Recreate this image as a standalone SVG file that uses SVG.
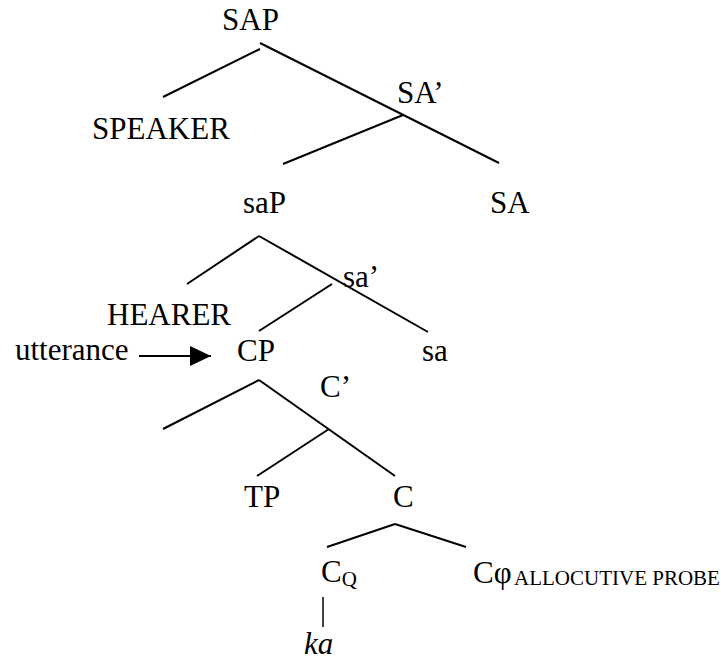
<svg xmlns="http://www.w3.org/2000/svg" width="721" height="661" viewBox="0 0 721 661" font-family="'Liberation Serif', 'Times New Roman', serif">
<style>
text{font-family:"Liberation Serif","Times New Roman",serif;font-size:31px;fill:#000}
.sub{font-size:21px}
.edge{stroke:#000;stroke-width:2;fill:none;stroke-linecap:butt}
</style>
<defs>
<marker id="ah" markerWidth="21" markerHeight="20" refX="21" refY="10" orient="auto" markerUnits="userSpaceOnUse">
<polygon points="0,0 21,10 0,20" fill="#000"/>
</marker>
</defs>
<rect width="721" height="661" fill="#fff"/>
<g id="connectors">
<line class="edge" x1="260" y1="49" x2="163" y2="97"/>
<line class="edge" x1="260" y1="43" x2="499" y2="163"/>
<line class="edge" x1="403" y1="115" x2="283" y2="164"/>
<line class="edge" x1="259" y1="236" x2="187" y2="284"/>
<line class="edge" x1="259" y1="236" x2="428" y2="332"/>
<line class="edge" x1="332" y1="284" x2="259" y2="331"/>
<line class="edge" x1="259" y1="380" x2="163" y2="429"/>
<line class="edge" x1="259" y1="380" x2="395" y2="476"/>
<line class="edge" x1="329" y1="429" x2="257" y2="476"/>
<line class="edge" x1="395" y1="524" x2="327" y2="547"/>
<line class="edge" x1="395" y1="524" x2="466" y2="547"/>
<line class="edge" x1="323" y1="597" x2="323" y2="627" style="stroke-width:1.5"/>
<line class="edge" x1="139" y1="356" x2="211" y2="356" marker-end="url(#ah)"/>
</g>
<g id="SAP"><text x="222" y="30">SAP</text></g>
<g id="SPEAKER"><text x="92" y="139">SPEAKER</text></g>
<g id="SAbar"><text x="397" y="103">SA’</text></g>
<g id="saP"><text x="243" y="213">saP</text></g>
<g id="SA"><text x="490" y="213">SA</text></g>
<g id="HEARER"><text x="107" y="325">HEARER</text></g>
<g id="sabar"><text x="343" y="287">sa’</text></g>
<g id="utterance"><text x="15" y="360">utterance</text></g>
<g id="CP"><text x="237" y="361">CP</text></g>
<g id="sa"><text x="422" y="361">sa</text></g>
<g id="Cbar"><text x="320" y="397">C’</text></g>
<g id="TP"><text x="244" y="507">TP</text></g>
<g id="C"><text x="393" y="507">C</text></g>
<g id="CQ"><text x="321" y="582">C<tspan class="sub" dy="4">Q</tspan></text></g>
<g id="Cphi"><text x="473" y="583">Cφ</text><text class="sub" x="514" y="585">ALLOCUTIVE PROBE</text></g>
<g id="ka"><text x="304" y="654" font-style="italic">ka</text></g>
</svg>
